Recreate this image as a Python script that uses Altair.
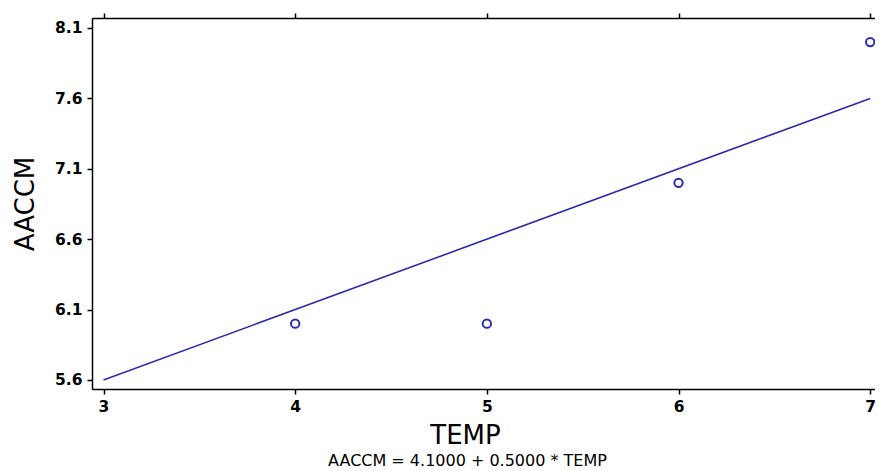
import altair as alt
import pandas as pd

temp = [4, 5, 6, 7]
aaccm = [6.0, 6.0, 7.0, 8.0]
fit_temp = [3, 7]
fit_aaccm = [5.6, 7.6]
x_ticks = [3, 4, 5, 6, 7]
y_ticks = [5.6, 6.1, 6.6, 7.1, 7.6, 8.1]
equation = "AACCM = 4.1000 + 0.5000 * TEMP"

pts = pd.DataFrame({"TEMP": temp, "AACCM": aaccm})
fit = pd.DataFrame({"TEMP": fit_temp, "AACCM": fit_aaccm})

BLUE = "#2b2bb0"
FONT = "DejaVu Sans"

xscale = alt.Scale(domain=[2.94, 7.025], nice=False, zero=False)
yscale = alt.Scale(domain=[5.536, 8.171], nice=False, zero=False)

common_axis = dict(
    grid=False, domainColor="black", domainWidth=1.5, tickColor="black",
    tickWidth=1.5, tickSize=5, labelFont=FONT, labelFontSize=15.5,
    labelFontWeight="bold", labelColor="black", titleFont=FONT,
    titleFontWeight="normal", titleColor="black", titleFontSize=26,
)

yaxis = alt.Axis(orient="left", values=y_ticks, format=".1f",
                 title="AACCM", titlePadding=16, labelPadding=5,
                 **common_axis)

points = alt.Chart(pts).mark_point(
    shape="circle", filled=False, size=70, strokeWidth=2, color=BLUE,
    opacity=1
).encode(
    x=alt.X("TEMP:Q", scale=xscale,
            axis=alt.Axis(orient="bottom", values=x_ticks, format="d",
                          title="TEMP", titlePadding=8, titleX=373,
                          labelPadding=5, **common_axis)),
    y=alt.Y("AACCM:Q", scale=yscale, axis=yaxis),
)

line = alt.Chart(fit).mark_line(color=BLUE, strokeWidth=1.6).encode(
    x=alt.X("TEMP:Q", scale=xscale,
            axis=alt.Axis(orient="top", values=x_ticks, labels=False,
                          title=None, **common_axis)),
    y=alt.Y("AACCM:Q", scale=yscale, axis=yaxis),
)

chart = alt.layer(line, points).resolve_axis(x="independent").properties(
    width=783,
    height=371,
    autosize=alt.AutoSizeParams(type="none"),
    padding={"left": 84, "top": 10, "right": 0, "bottom": 82},
    title=alt.TitleParams(
        text=equation, orient="bottom", anchor="middle", font=FONT,
        fontSize=16, fontWeight="normal", color="black", offset=4, dx=-16,
    ),
).configure_view(stroke=None).configure(background="white")

chart.save("out.html", embed_options={"renderer": "svg", "actions": False})
